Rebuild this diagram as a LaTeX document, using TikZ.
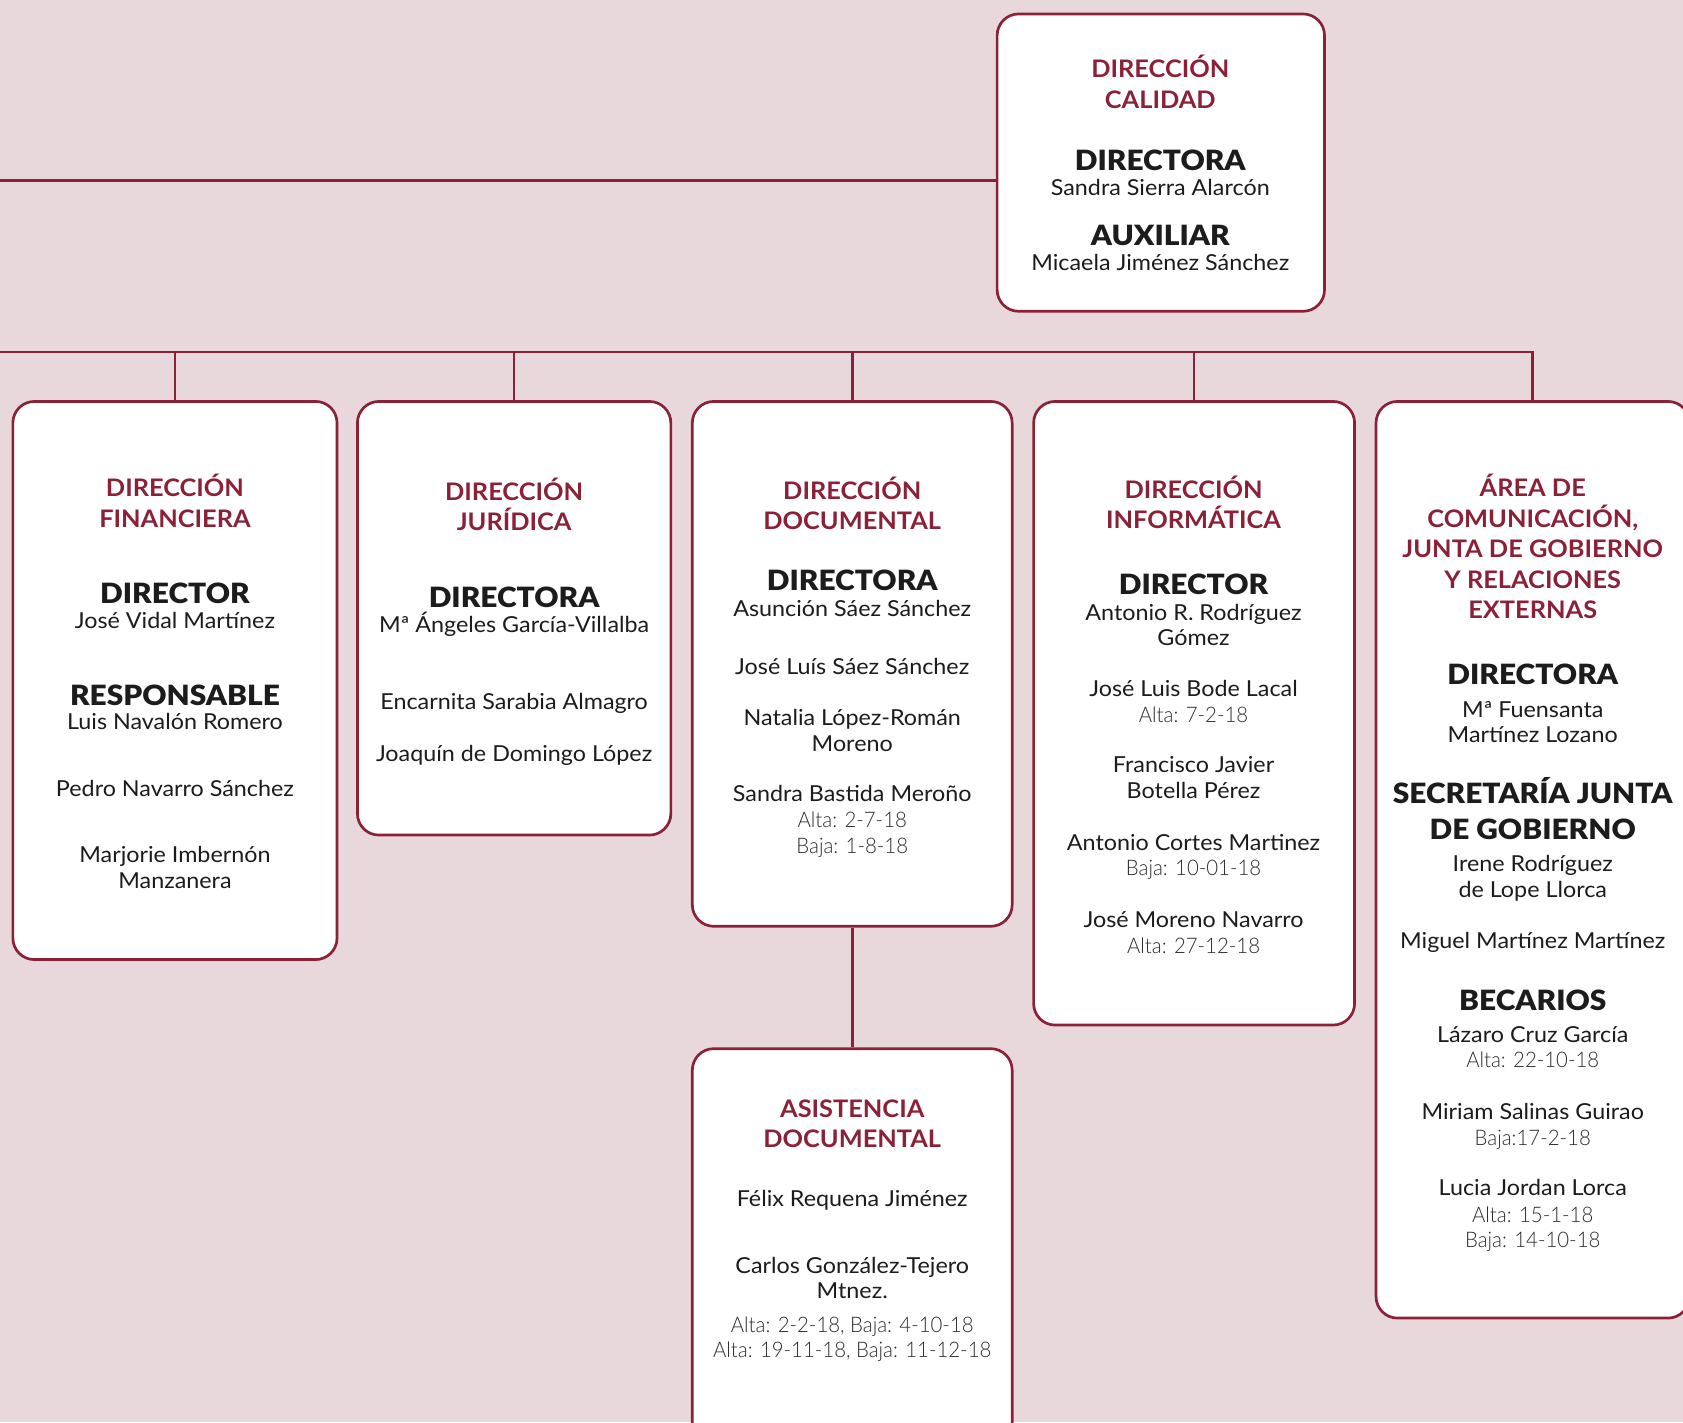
\documentclass[tikz,border=0pt]{standalone}
\usepackage{fontspec}
\setmainfont{Lato}
\newfontfamily\lightfont[FakeStretch=0.95]{Lato Light}
\newfontfamily\namefont[FakeStretch=1.06]{Lato}
\newfontfamily\ttlfont[FakeStretch=1.05]{Lato Bold}
\newfontfamily\rolefont[FakeStretch=1.07]{Lato Black}
\definecolor{bg}{RGB}{233,216,219}
\definecolor{wine}{RGB}{139,33,54}
\definecolor{ink}{RGB}{28,28,28}
\definecolor{soft}{RGB}{45,45,45}
\tikzset{
  box/.style={draw=wine, line width=2.5pt, fill=white, rounded corners=20pt, inner sep=0pt},
  link/.style={draw=wine, line width=2.5pt},
  ttl/.style={text=wine, font=\ttlfont\fontsize{22.5}{26}\selectfont, anchor=base, inner sep=0pt, yshift=-8pt},
  role/.style={text=ink, font=\rolefont\fontsize{26}{30}\selectfont, anchor=base, inner sep=0pt, yshift=-10pt},
  nm/.style={text=ink, font=\namefont\fontsize{20.5}{23}\selectfont, anchor=base, inner sep=0pt, yshift=-7pt},
  dt/.style={text=soft, font=\lightfont\fontsize{20}{23}\selectfont, anchor=base, inner sep=0pt, yshift=-7pt},
}
\begin{document}
\begin{tikzpicture}[x=1pt, y=-1pt]
\useasboundingbox (0,0) rectangle (1568,1325);
\fill[bg] (0,0) rectangle (1568,1325);

% boxes
\node[box, minimum width=305pt, minimum height=277pt] (cal) at (1081.5,151.5) {};
\node[box, minimum width=302pt, minimum height=520pt] (fin) at (163,634) {};
\node[box, minimum width=292pt, minimum height=404pt] (jur) at (479,576) {};
\node[box, minimum width=298pt, minimum height=489pt] (doc) at (794,618.5) {};
\node[box, minimum width=299pt, minimum height=581pt] (inf) at (1112.5,664.5) {};
\node[box, minimum width=292pt, minimum height=854pt] (area) at (1428,801) {};
\node[box, minimum width=298pt, minimum height=368pt] (asis) at (794,1161) {};

% connectors
\coordinate (calL) at (0,168);
\coordinate (busL) at (0,328);
\draw[link] (calL) -- (cal.west |- calL);
\draw[link] (busL) -- (busL -| area.north) -- (area.north);
\draw[link] (fin.north) -- (fin.north |- busL);
\draw[link] (jur.north) -- (jur.north |- busL);
\draw[link] (doc.north) -- (doc.north |- busL);
\draw[link] (inf.north) -- (inf.north |- busL);
\draw[link] (doc.south) -- (asis.north);

% Dirección Calidad
\node[ttl] (c1) at (1081,64) {DIRECCIÓN};
\node[ttl] (c2) at (1081,93) {CALIDAD};
\node[role] (c3) at (1081,149) {DIRECTORA};
\node[nm] (c4) at (1081,175) {Sandra Sierra Alarcón};
\node[role] (c5) at (1081,219) {AUXILIAR};
\node[nm] (c6) at (1081,245) {Micaela Jiménez Sánchez};

% Dirección Financiera
\node[ttl] (f1) at (163,455) {DIRECCIÓN};
\node[ttl] (f2) at (163,483) {FINANCIERA};
\node[role] (f3) at (163,552) {DIRECTOR};
\node[nm] (f4) at (163,579) {José Vidal Martínez};
\node[role] (f5) at (163,647) {RESPONSABLE};
\node[nm] (f6) at (163,673) {Luis Navalón Romero};
\node[nm] (f7) at (163,735) {Pedro Navarro Sánchez};
\node[nm] (f8) at (163,797) {Marjorie Imbernón};
\node[nm] (f9) at (163,821) {Manzanera};

% Dirección Jurídica
\node[ttl] (j1) at (479,458) {DIRECCIÓN};
\node[ttl] (j2) at (479,486) {JURÍDICA};
\node[role] (j3) at (479,556) {DIRECTORA};
\node[nm] (j4) at (479,582) {Mª Ángeles García-Villalba};
\node[nm] (j5) at (479,654) {Encarnita Sarabia Almagro};
\node[nm] (j6) at (479,702) {Joaquín de Domingo López};

% Dirección Documental
\node[ttl] (d1) at (794,457) {DIRECCIÓN};
\node[ttl] (d2) at (794,485) {DOCUMENTAL};
\node[role] (d3) at (794,540) {DIRECTORA};
\node[nm] (d4) at (794,567) {Asunción Sáez Sánchez};
\node[nm] (d5) at (794,621) {José Luís Sáez Sánchez};
\node[nm] (d6) at (794,669) {Natalia López-Román};
\node[nm] (d7) at (794,693) {Moreno};
\node[nm] (d8) at (794,740) {Sandra Bastida Meroño};
\node[dt] (d9) at (794,764) {Alta: 2-7-18};
\node[dt] (d10) at (794,788) {Baja: 1-8-18};

% Dirección Informática
\node[ttl] (i1) at (1112,456) {DIRECCIÓN};
\node[ttl] (i2) at (1112,484) {INFORMÁTICA};
\node[role] (i3) at (1112,544) {DIRECTOR};
\node[nm] (i4) at (1112,571) {Antonio R. Rodríguez};
\node[nm] (i5) at (1112,594) {Gómez};
\node[nm] (i6) at (1112,642) {José Luis Bode Lacal};
\node[dt] (i7) at (1112,666) {Alta: 7-2-18};
\node[nm] (i8) at (1112,713) {Francisco Javier};
\node[nm] (i9) at (1112,737) {Botella Pérez};
\node[nm] (i10) at (1112,785) {Antonio Cortes Martinez};
\node[dt] (i11) at (1112,809) {Baja: 10-01-18};
\node[nm] (i12) at (1112,857) {José Moreno Navarro};
\node[dt] (i13) at (1112,881) {Alta: 27-12-18};

% Área de Comunicación
\node[ttl] (a1) at (1428,455) {ÁREA DE};
\node[ttl] (a2) at (1428,483) {COMUNICACIÓN,};
\node[ttl] (a3) at (1428,511) {JUNTA DE GOBIERNO};
\node[ttl] (a4) at (1428,540) {Y RELACIONES};
\node[ttl] (a5) at (1428,568) {EXTERNAS};
\node[role] (a6) at (1428,628) {DIRECTORA};
\node[nm] (a7) at (1428,661) {Mª Fuensanta};
\node[nm] (a8) at (1428,685) {Martínez Lozano};
\node[role] (a9) at (1428,739) {SECRETARÍA JUNTA};
\node[role] (a10) at (1428,772) {DE GOBIERNO};
\node[nm] (a11) at (1428,805) {Irene Rodríguez};
\node[nm] (a12) at (1428,829) {de Lope Llorca};
\node[nm] (a13) at (1428,877) {Miguel Martínez Martínez};
\node[role] (a14) at (1428,931) {BECARIOS};
\node[nm] (a15) at (1428,964) {Lázaro Cruz García};
\node[dt] (a16) at (1428,988) {Alta: 22-10-18};
\node[nm] (a17) at (1428,1036) {Miriam Salinas Guirao};
\node[dt] (a18) at (1428,1060) {Baja:17-2-18};
\node[nm] (a19) at (1428,1107) {Lucia Jordan Lorca};
\node[dt] (a20) at (1428,1132) {Alta: 15-1-18};
\node[dt] (a21) at (1428,1155) {Baja: 14-10-18};

% Asistencia Documental
\node[ttl] (s1) at (794,1033) {ASISTENCIA};
\node[ttl] (s2) at (794,1061) {DOCUMENTAL};
\node[nm] (s3) at (794,1117) {Félix Requena Jiménez};
\node[nm] (s4) at (794,1179) {Carlos González-Tejero};
\node[nm] (s5) at (794,1203) {Mtnez.};
\node[dt] (s6) at (794,1234) {Alta: 2-2-18, Baja: 4-10-18};
\node[dt] (s7) at (794,1258) {Alta: 19-11-18, Baja: 11-12-18};
\end{tikzpicture}
\end{document}
